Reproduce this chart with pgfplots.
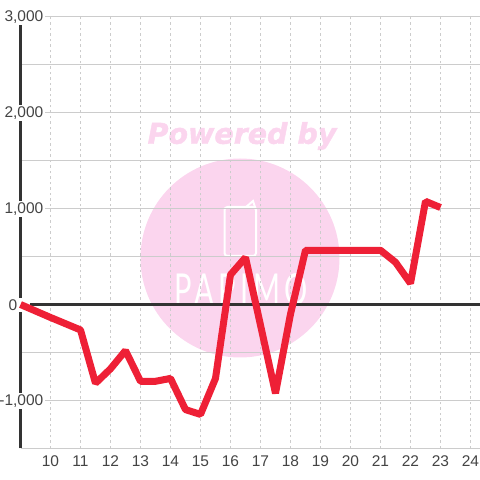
\documentclass[border=0pt]{standalone}
\usepackage{pgfplots}
\pgfplotsset{compat=1.18}
\usepackage{fontspec}
\setmainfont{Liberation Sans}
\newfontfamily\wmfont{DejaVu Sans}[BoldItalicFeatures={FakeBold=1.6}]
\newfontfamily\pfont{Lato}
\definecolor{wm}{HTML}{FBD5EE}
\definecolor{txt}{HTML}{444444}
\definecolor{ax}{HTML}{333333}
\definecolor{gr}{HTML}{CCCCCC}
\definecolor{ser}{HTML}{EE2036}
\begin{document}
\begin{tikzpicture}
\path[use as bounding box] (0pt,0pt) rectangle (480pt,480pt);
% watermark (decoration behind the chart)
\fill[wm] (240pt,222pt) circle (99.5pt);
\node[text=wm,font=\wmfont\fontsize{28.5}{30}\selectfont\bfseries\itshape] at (242pt,344pt) {Powered by};
\draw[white,line width=2pt,rounded corners=3pt] (224.5pt,224pt) rectangle (256pt,273pt);
\draw[white,line width=2pt,line cap=round] (246pt,273pt) -- (253pt,279pt) -- (256pt,270pt);
\node[text=white,xscale=0.66,transform shape,font=\pfont\fontsize{44}{48}\selectfont] at (241pt,190pt) {\addfontfeature{LetterSpace=15}PAPIMO};
\begin{axis}[
  at={(20.5pt,31.5pt)},anchor=south west,
  scale only axis,width=459.5pt,height=432pt,
  xmin=9,xmax=24.3167,ymin=-1500,ymax=3000,
  axis x line=bottom,axis y line=left,
  x axis line style={draw=none,-},
  y axis line style={draw=ax,line width=3pt,-},
  xtick={10,...,24},
  ytick={-1000,0,1000,2000,3000},
  yticklabels={{-1,000},{0\kern26pt},{1,000},{2,000},{3,000}},
  minor ytick={-1500,-500,500,1500,2500},
  tick style={draw=none},
  major tick length=0pt,minor tick length=0pt,
  grid=both,
  major x grid style={draw=gr,line width=1pt,dash pattern=on 2.5pt off 3pt},
  minor y grid style={draw=gr,line width=1pt},
  major y grid style={draw=gr,line width=1pt},
  /pgf/number format/assume math mode=true,
  tick label style={font=\fontsize{15.5}{18}\selectfont,text=txt},
  yticklabel style={fill=white,inner sep=1.5pt,anchor=east,xshift=24.5pt,yshift=-0.5pt},
  xticklabel style={yshift=-4pt},
  clip=false,
]
\addplot[draw=ax,line width=3pt,forget plot] coordinates {(9.32,0) (24.3167,0)};
\addplot[draw=ser,line width=7pt,line join=bevel] coordinates {
(9,0) (10,-135) (11,-265) (11.5,-820) (12,-670) (12.5,-480) (13,-800) (13.5,-800)
(14,-770) (14.5,-1095) (15,-1145) (15.5,-770) (16,310) (16.5,490) (17,-215)
(17.5,-925) (18,-100) (18.5,565) (19,565) (20,565) (21,565) (21.5,440) (22,220)
(22.5,1075) (23,1010)};
\end{axis}
\end{tikzpicture}
\end{document}
